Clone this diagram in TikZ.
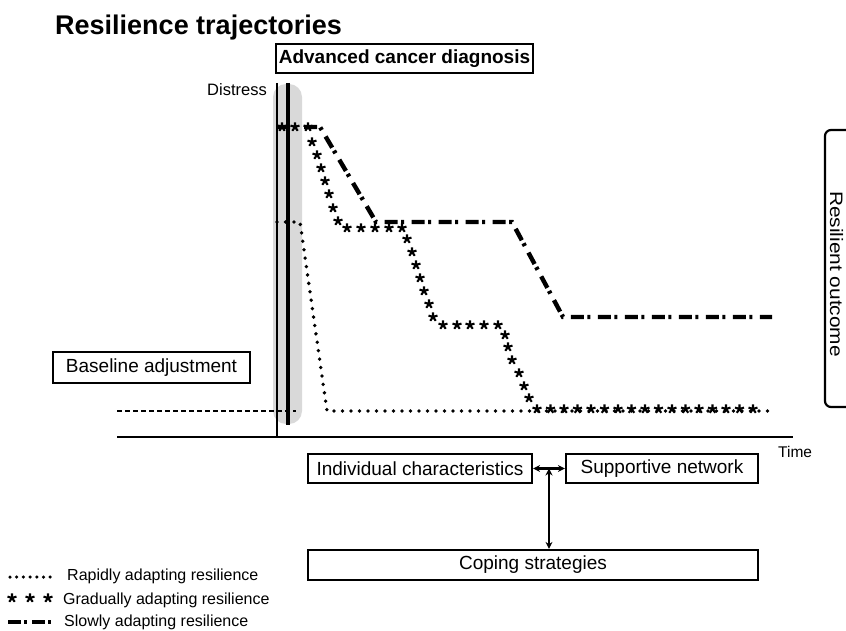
\documentclass[tikz,border=0pt]{standalone}
\usepackage{fontspec}
\setmainfont{Liberation Sans}
\usetikzlibrary{arrows.meta,calc,plotmarks}
\newcommand\fsz[1]{\fontsize{#1}{#1}\selectfont}
\definecolor{bandgray}{HTML}{D9D9D9}
\begin{document}
\begin{tikzpicture}[x=1pt,y=-1pt,
  lbl/.style={draw, line width=2.2pt, inner sep=0pt, font=\fsz{19}},
  axisthin/.style={line width=2.3pt},
  axisthick/.style={line width=3.8pt},
  rapid/.style={line width=3.8pt, line cap=round, dash pattern=on 0pt off 8.5pt},
  rapidkey/.style={line width=3.5pt, line cap=round, dash pattern=on 0pt off 6.7pt},
  slow/.style={line width=4.4pt, dash pattern=on 13pt off 3.5pt on 3pt off 7.5pt},
  slowkey/.style={line width=4.4pt, dash pattern=on 13pt off 3pt on 3pt off 5pt},
  starmarks/.style={only marks, mark=star, mark size=4.7pt, mark options={line width=2.1pt}},
  biarrow/.style={line width=2.2pt, {Stealth[length=7pt,width=7pt]}-{Stealth[length=7pt,width=7pt]}},
  keytext/.style={anchor=base west, font=\fsz{16}, inner sep=0pt}
]
\useasboundingbox (0,0) rectangle (846,631);

% title
\node[anchor=base west, inner sep=0pt, font=\bfseries\fsz{27}] (title) at (55,35) {Resilience trajectories};

% shaded diagnosis period
\fill[bandgray, rounded corners=13pt] (273,84) rectangle (302,424);

% axes
\coordinate (ytop) at (277,83);
\coordinate (origin) at (277,437);
\coordinate (xleft) at (117,437);
\coordinate (xright) at (793,437);
\draw[axisthin] (ytop) -- (origin);
\draw[line width=2.8pt] (xleft) -- (xright);
\coordinate (dxtop) at (288,83);
\coordinate (dxbot) at (288,425);
\draw[axisthick] (dxtop) -- (dxbot);

\node[anchor=base east, inner sep=0pt, font=\fsz{16.5}] (ylabel) at (267,96) {Distress};
\node[anchor=base west, inner sep=0pt, font=\fsz{15.5}] (xlabel) at (778,457) {Time};

% baseline level
\coordinate (bl0) at (117,411);
\coordinate (bl1) at (296,411);
\draw[line width=1.8pt, dash pattern=on 5pt off 3pt] (bl0) -- (bl1);

% slowly adapting trajectory
\draw[slow] (277,127) -- (320,127) -- (376,222) -- (512,222) -- (563,317) -- (772,317);

% rapidly adapting trajectory
\draw[rapid] (277,222) -- (300,222) -- (327,411) -- (770,411);

% gradually adapting trajectory
\draw plot[starmarks] coordinates {
  (282,127) (295,127) (308,127)
  (312,142) (317,155) (321,168) (325,181) (329,194) (333,208) (338,221)
  (347,228) (361,228) (375,228) (389,228) (402,228)
  (407,239) (412,252) (416,265) (420,278) (424,291) (429,304) (433,317)
  (443,325) (457,325) (470,325) (484,325) (498,325)
  (505,335) (508,347) (512,360) (519,373) (524,386) (529,398)};
\draw plot[starmarks] coordinates {
  (537,409) (550.5,409) (564,409) (577.5,409) (591,409) (604.5,409)
  (618,409) (631.5,409) (645,409) (658.5,409) (672,409) (685.5,409)
  (699,409) (712.5,409) (726,409) (739.5,409) (753,409)};

% labels
\node[lbl, font=\bfseries\fsz{19}, minimum width=257pt, minimum height=29pt] (diag) at (404.5,58.5) {Advanced cancer diagnosis};
\node[lbl, minimum width=197pt, minimum height=31pt] (base) at (151.5,367.5) {Baseline adjustment};
\node[lbl, minimum width=224pt, minimum height=29pt] (ind) at (420,468.5) {Individual characteristics};
\node[lbl, minimum width=192pt, minimum height=29pt] (sup) at (662,468.5) {Supportive network};
\node[lbl, minimum width=450pt, minimum height=30pt] (cop) at (533,565) {Coping strategies};

\node[draw, line width=2.2pt, rounded corners=6pt, minimum width=50pt, minimum height=277pt] (outbox) at (850,268.5) {};
\node[rotate=-90, inner sep=0pt, font=\fsz{18}] (outtxt) at (836.5,274) {\scalebox{1.16}[1]{Resilient outcome}};

% links between factors
\draw[biarrow] (ind.east) -- (sup.west);
\coordinate (hub) at ($(ind.east)!0.5!(sup.west)$);
\draw[biarrow] (hub) -- (hub |- cop.north);

% key
\coordinate (k1a) at (10,577);
\coordinate (k1b) at (51,577);
\draw[rapidkey] (k1a) -- (k1b);
\node[keytext] (k1) at (67,580) {Rapidly adapting resilience};
\draw plot[starmarks] coordinates {(12,598) (30,598) (48,598)};
\node[keytext] (k2) at (63,604) {Gradually adapting resilience};
\coordinate (k3a) at (8,622);
\coordinate (k3b) at (52,622);
\draw[slowkey] (k3a) -- (k3b);
\node[keytext] (k3) at (64,626.5) {Slowly adapting resilience};
\end{tikzpicture}
\end{document}
